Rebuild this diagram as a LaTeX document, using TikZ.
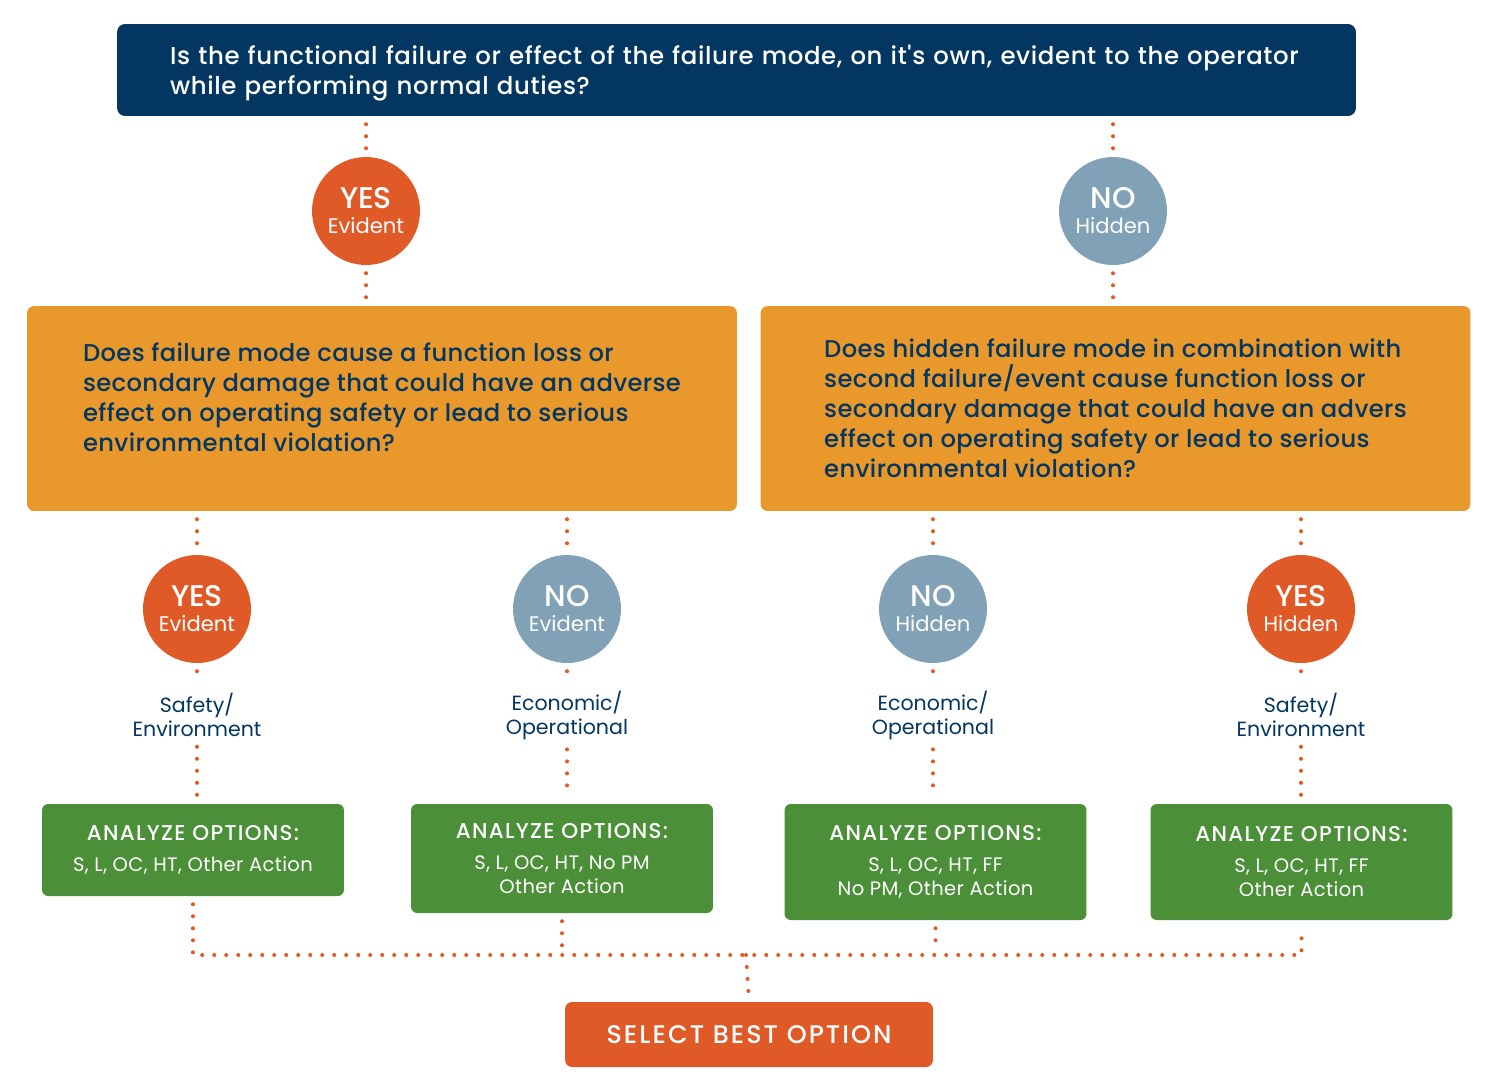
\documentclass[tikz,border=0pt]{standalone}
\usepackage{fontspec}
\setmainfont{Poppins}
\newfontfamily\medfont{Poppins Medium}
\usetikzlibrary{positioning}
\definecolor{navy}{RGB}{3,54,96}
\definecolor{amber}{RGB}{233,152,44}
\definecolor{rust}{RGB}{224,90,40}
\definecolor{slate}{RGB}{128,161,182}
\definecolor{leaf}{RGB}{75,143,56}

\begin{document}
\begin{tikzpicture}[x=0.02cm,y=-0.02cm,
    dots/.style={draw=rust,line width=2.3pt,line cap=round,dash pattern=on 0pt off 6.83pt,shorten <=4.5pt,shorten >=4.5pt},
    qbox/.style={rectangle,rounded corners=4pt,inner sep=0pt,align=left,minimum width=14.2cm,minimum height=4.1cm,fill=amber,text=navy,font=\medfont\addfontfeatures{LetterSpace=1.5}\fontsize{13.8}{17.07}\selectfont},
    yesnode/.style={circle,inner sep=0pt,minimum size=2.16cm,fill=rust,text=white,align=center,font=\fontsize{12}{14.2}\selectfont},
    nonode/.style={yesnode,fill=slate},
    kind/.style={align=center,text=navy,inner sep=1pt,font=\fontsize{11.7}{13.66}\selectfont},
    optbox/.style={rectangle,rounded corners=3.5pt,inner sep=0pt,minimum width=6.04cm,fill=leaf,text=white,align=center,font=\addfontfeatures{LetterSpace=2}\fontsize{11.1}{13.66}\selectfont}]

\useasboundingbox (0,0) rectangle (1493,1089);

\node[rectangle,rounded corners=4.5pt,inner sep=0pt,minimum width=24.78cm,minimum height=1.84cm,text width=22.66cm,text height=14.5pt,align=left,fill=navy,text=white,font=\medfont\addfontfeatures{LetterSpace=2.5}\fontsize{13.9}{17.07}\selectfont] (q0) at (736.5,70)
  {Is the functional failure or effect of the failure mode, on it's own, evident to the operator\\while performing normal duties?};

\node[yesnode] (a1) at (366,211) {{\medfont\fontsize{17}{16}\selectfont YES}\\Evident};
\node[nonode] (a2) at (1113,211) {{\medfont\fontsize{17}{16}\selectfont NO}\\Hidden};

\node[qbox] (q1) at (382,408.5)
  {Does failure mode cause a function loss or\\secondary damage that could have an adverse\\effect on operating safety or lead to serious\\environmental violation?\\[-4.5pt]\mbox{}};
\node[qbox] (q2) at (1115.5,408.5)
  {Does hidden failure mode in combination with\\second failure/event cause function loss or\\secondary damage that could have an advers\\effect on operating safety or lead to serious\\environmental violation?};

\node[yesnode] (b1) at (197,609) {{\medfont\fontsize{17}{16}\selectfont YES}\\Evident};
\node[nonode] (b2) at (567,609) {{\medfont\fontsize{17}{16}\selectfont NO}\\Evident};
\node[nonode] (b3) at (933,609) {{\medfont\fontsize{17}{16}\selectfont NO}\\Hidden};
\node[yesnode] (b4) at (1301,609) {{\medfont\fontsize{17}{16}\selectfont YES}\\Hidden};

\node[kind] (k1) at (197,715) {Safety/\\Environment};
\node[kind] (k2) at (567,715) {Economic/\\Operational};
\node[kind] (k3) at (933,715) {Economic/\\Operational};
\node[kind] (k4) at (1301,715) {Safety/\\Environment};

\node[optbox,minimum height=1.84cm] (g1) at (193,850)
  {{\medfont\addfontfeatures{LetterSpace=6}\fontsize{12.2}{14}\selectfont ANALYZE OPTIONS:}\\[4pt]S, L, OC, HT, Other Action};
\node[optbox,minimum height=2.18cm] (g2) at (562,858.5)
  {{\medfont\addfontfeatures{LetterSpace=6}\fontsize{12.2}{14}\selectfont ANALYZE OPTIONS:}\\[4pt]S, L, OC, HT, No PM\\Other Action};
\node[optbox,minimum height=2.32cm] (g3) at (935.5,862)
  {{\medfont\addfontfeatures{LetterSpace=6}\fontsize{12.2}{14}\selectfont ANALYZE OPTIONS:}\\[4pt]S, L, OC, HT, FF\\No PM, Other Action};
\node[optbox,minimum height=2.32cm] (g4) at (1301.5,862)
  {{\medfont\addfontfeatures{LetterSpace=6}\fontsize{12.2}{14}\selectfont ANALYZE OPTIONS:}\\[4pt]S, L, OC, HT, FF\\Other Action};

\node[rectangle,rounded corners=4pt,inner sep=0pt,minimum width=7.36cm,minimum height=1.3cm,fill=rust,text=white,font=\medfont\addfontfeatures{LetterSpace=8}\fontsize{14.5}{16}\selectfont] (sel) at (749,1034.5) {SELECT BEST OPTION};
\coordinate (bus) at (746,955);

\draw[dots] (q0.south -| a1) -- (a1.north);
\draw[dots] (a1.south) -- (q1.north -| a1);
\draw[dots] (q0.south -| a2) -- (a2.north);
\draw[dots] (a2.south) -- (q2.north -| a2);
\foreach \q/\b/\k/\g in {q1/b1/k1/g1,q1/b2/k2/g2,q2/b3/k3/g3,q2/b4/k4/g4} {
  \draw[dots] (\q.south -| \b) -- (\b.north);
  \draw[dots] (\b.south) -- (\k.north);
  \draw[dots] (\k.south) -- (\k.south |- \g.north);
}
\draw[dots] (g1.south) -- (g1.south |- bus) -- (g4.south |- bus) -- (g4.south);
\draw[dots] (g2.south) -- (g2.south |- bus);
\draw[dots] (g3.south) -- (g3.south |- bus);
\draw[dots,shorten <=0pt] (bus) -- (sel.north);
\end{tikzpicture}
\end{document}
